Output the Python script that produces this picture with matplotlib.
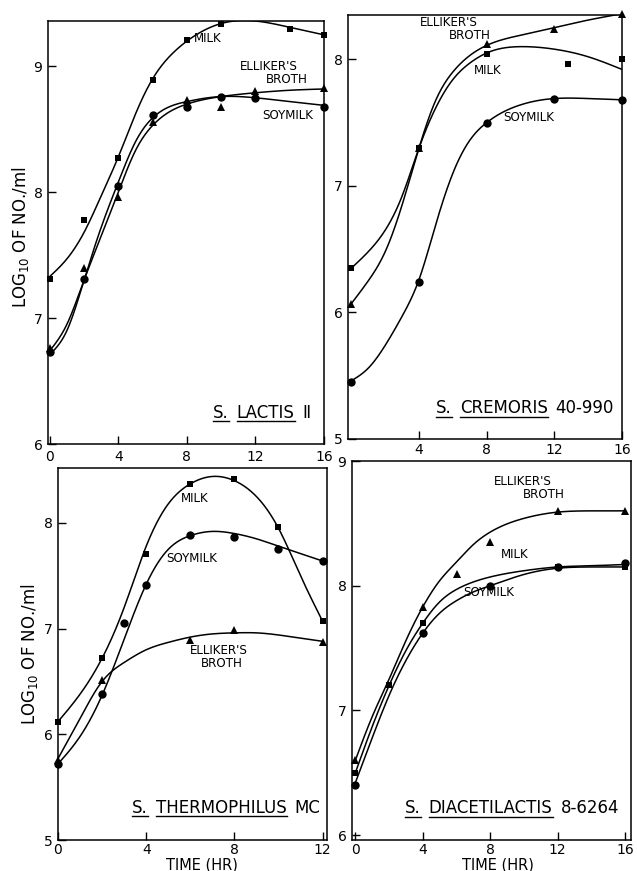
import numpy as np
import matplotlib
matplotlib.use("Agg")
import matplotlib.pyplot as plt
from matplotlib.transforms import IdentityTransform
from matplotlib.lines import Line2D

# ---------------- data ----------------
# Panel 1: S. lactis II
lac_milk_h = [0, 2, 4, 6, 8, 10, 14, 16]
lac_milk = [7.31, 7.78, 8.27, 8.89, 9.21, 9.34, 9.30, 9.25]
lac_ell_h = [0, 2, 4, 6, 8, 10, 12, 16]
lac_ell = [6.76, 7.40, 7.96, 8.56, 8.73, 8.68, 8.80, 8.83]
lac_soy_h = [0, 2, 4, 6, 8, 10, 12, 16]
lac_soy = [6.73, 7.31, 8.05, 8.61, 8.68, 8.76, 8.75, 8.68]
# hand-drawn fitted curves
lac_curve_h = [0, 1, 2, 3, 4, 5, 6, 7, 8, 10, 12, 14, 16]
lac_milk_curve = [7.33, 7.47, 7.68, 7.97, 8.28, 8.62, 8.90, 9.08, 9.20, 9.34, 9.36, 9.31, 9.25]
lac_ell_curve = [6.74, 6.95, 7.30, 7.65, 8.00, 8.33, 8.53, 8.64, 8.70, 8.76, 8.79, 8.81, 8.82]
lac_soy_curve = [6.71, 6.90, 7.30, 7.72, 8.08, 8.40, 8.59, 8.68, 8.72, 8.76, 8.75, 8.72, 8.69]

# Panel 2: S. cremoris 40-990
cre_ell_h = [0, 4, 8, 12, 16]
cre_ell = [6.07, 7.30, 8.12, 8.24, 8.36]
cre_milk_h = [0, 4, 8, 12.8, 16]
cre_milk = [6.35, 7.30, 8.04, 7.96, 8.00]
cre_soy_h = [0, 4, 8, 12, 16]
cre_soy = [5.45, 6.24, 7.50, 7.69, 7.68]
cre_curve_h = [0, 1, 2, 3, 4, 5, 6, 7, 8, 10, 12, 14, 16]
cre_ell_curve = [6.07, 6.25, 6.48, 6.85, 7.30, 7.68, 7.90, 8.03, 8.11, 8.19, 8.25, 8.31, 8.36]
cre_milk_curve = [6.35, 6.48, 6.65, 6.92, 7.30, 7.62, 7.84, 7.97, 8.05, 8.10, 8.08, 8.02, 7.92]
cre_soy_curve = [5.46, 5.56, 5.74, 5.97, 6.26, 6.70, 7.10, 7.36, 7.50, 7.64, 7.69, 7.69, 7.68]

# Panel 3: S. thermophilus MC
the_milk_h = [0, 2, 4, 6, 8, 10, 12]
the_milk = [6.12, 6.72, 7.71, 8.37, 8.42, 7.96, 7.07]
the_soy_h = [0, 2, 3, 4, 6, 8, 10, 12]
the_soy = [5.72, 6.38, 7.05, 7.41, 7.89, 7.87, 7.75, 7.64]
the_ell_h = [0, 2, 6, 8, 12]
the_ell = [5.76, 6.51, 6.89, 6.99, 6.87]
the_curve_h = [0, 1, 2, 3, 4, 5, 6, 7, 8, 9, 10, 11, 12]
the_milk_curve = [6.12, 6.38, 6.72, 7.20, 7.78, 8.18, 8.37, 8.44, 8.40, 8.25, 7.95, 7.50, 7.07]
the_soy_curve = [5.72, 5.98, 6.37, 6.90, 7.42, 7.75, 7.88, 7.92, 7.90, 7.85, 7.78, 7.71, 7.64]
the_ell_curve = [5.77, 6.15, 6.50, 6.68, 6.80, 6.87, 6.92, 6.95, 6.96, 6.96, 6.94, 6.91, 6.88]

# Panel 4: S. diacetilactis 8-6264
dia_ell_h = [0, 4, 6, 8, 12, 16]
dia_ell = [6.60, 7.83, 8.09, 8.35, 8.60, 8.60]
dia_milk_h = [0, 2, 4, 12, 16]
dia_milk = [6.50, 7.20, 7.70, 8.15, 8.15]
dia_soy_h = [0, 4, 8, 12, 16]
dia_soy = [6.40, 7.62, 8.00, 8.15, 8.18]
dia_curve_h = [0, 1, 2, 3, 4, 5, 6, 7, 8, 10, 12, 14, 16]
dia_ell_curve = [6.60, 6.95, 7.25, 7.56, 7.83, 8.04, 8.19, 8.33, 8.43, 8.54, 8.59, 8.60, 8.60]
dia_milk_curve = [6.50, 6.87, 7.20, 7.48, 7.70, 7.87, 7.97, 8.03, 8.07, 8.12, 8.15, 8.16, 8.17]
dia_soy_curve = [6.42, 6.78, 7.12, 7.40, 7.62, 7.78, 7.88, 7.95, 8.00, 8.09, 8.14, 8.15, 8.15]

# ---------------- figure ----------------
W, H = 637, 871
plt.rcParams['font.family'] = ['DejaVu Sans']
fig = plt.figure(figsize=(W / 100, H / 100), dpi=100)
fig.patch.set_facecolor('white')
LW = 1.1
TICKFS = 10
LABFS = 8.6
ID = IdentityTransform()


def add_ax(l, t, r, b):
    return fig.add_axes([l / W, 1 - b / H, (r - l) / W, (b - t) / H])


def spline(xk, yk, n=400):
    x = np.asarray(xk, float)
    y = np.asarray(yk, float)
    m = len(x)
    h = np.diff(x)
    A = np.zeros((m, m))
    rhs = np.zeros(m)
    A[0, 0] = 1.0
    A[-1, -1] = 1.0
    for i in range(1, m - 1):
        A[i, i - 1] = h[i - 1]
        A[i, i] = 2 * (h[i - 1] + h[i])
        A[i, i + 1] = h[i]
        rhs[i] = 6 * ((y[i + 1] - y[i]) / h[i] - (y[i] - y[i - 1]) / h[i - 1])
    M = np.linalg.solve(A, rhs)
    xs = np.linspace(x[0], x[-1], n)
    i = np.clip(np.searchsorted(x, xs, side='right') - 1, 0, m - 2)
    hi = h[i]
    a = x[i + 1] - xs
    b = xs - x[i]
    ys = (M[i] * a ** 3 / (6 * hi) + M[i + 1] * b ** 3 / (6 * hi)
          + (y[i] / hi - M[i] * hi / 6) * a + (y[i + 1] / hi - M[i + 1] * hi / 6) * b)
    return xs, ys


def style(ax, xlim, ylim, xticks, xlabels, yticks, xpad=4):
    ax.set_xlim(*xlim)
    ax.set_ylim(*ylim)
    ax.set_xticks(xticks)
    ax.set_xticklabels(xlabels)
    ax.set_yticks(yticks)
    ax.set_yticklabels([str(v) for v in yticks])
    ax.tick_params(direction='in', length=6, width=1.0, labelsize=TICKFS, pad=4)
    ax.tick_params(axis='x', pad=xpad)
    for s in ax.spines.values():
        s.set_linewidth(LW)
    ax.set_facecolor('white')


def draw(ax, ch, curve, h, vals, marker, ms):
    xs, ys = spline(ch, curve)
    ax.plot(xs, ys, color='black', lw=LW, zorder=2)
    ax.plot(h, vals, linestyle='none', marker=marker, ms=ms, color='black',
            markeredgewidth=0, zorder=3, clip_on=False)


def ptext(x, y, s, fs=LABFS, ha='center', **kw):
    return fig.text(x, H - y, s, transform=ID, fontsize=fs, ha=ha, va='center', **kw)


def species(parts, x0, yc, ul_y, fs=12, gap=8):
    renderer = fig.canvas.get_renderer()
    x = x0
    for txt, ul in parts:
        t = fig.text(x, H - yc, txt, transform=ID, fontsize=fs, ha='left', va='center')
        bb = t.get_window_extent(renderer)
        if ul:
            fig.add_artist(Line2D([bb.x0, bb.x1], [H - ul_y, H - ul_y], transform=ID,
                                  color='black', lw=1.0))
        x = bb.x1 + gap


SQ, CI, TR = 's', 'o', '^'
SQMS, CIMS, TRMS = 4.8, 6.0, 6.4

# Panel 1
ax1 = add_ax(48, 21, 324, 444)
style(ax1, (-0.1, 16), (6, 9.36), [0, 4, 8, 12, 16], ['0', '4', '8', '12', '16'], [6, 7, 8, 9])
draw(ax1, lac_curve_h, lac_milk_curve, lac_milk_h, lac_milk, SQ, SQMS)
draw(ax1, lac_curve_h, lac_ell_curve, lac_ell_h, lac_ell, TR, TRMS)
draw(ax1, lac_curve_h, lac_soy_curve, lac_soy_h, lac_soy, CI, CIMS)

# Panel 2
ax2 = add_ax(348, 15, 622, 439)
style(ax2, (-0.2, 16), (5, 8.35), [4, 8, 12, 16], ['4', '8', '12', '16'], [5, 6, 7, 8], xpad=3)
draw(ax2, cre_curve_h, cre_ell_curve, cre_ell_h, cre_ell, TR, TRMS)
draw(ax2, cre_curve_h, cre_milk_curve, cre_milk_h, cre_milk, SQ, SQMS)
draw(ax2, cre_curve_h, cre_soy_curve, cre_soy_h, cre_soy, CI, CIMS)

# Panel 3
ax3 = add_ax(58, 468, 327, 840)
style(ax3, (0, 12.2), (5, 8.52), [0, 4, 8, 12], ['0', '4', '8', '12'], [5, 6, 7, 8], xpad=2)
draw(ax3, the_curve_h, the_milk_curve, the_milk_h, the_milk, SQ, SQMS)
draw(ax3, the_curve_h, the_soy_curve, the_soy_h, the_soy, CI, CIMS)
draw(ax3, the_curve_h, the_ell_curve, the_ell_h, the_ell, TR, TRMS)

# Panel 4
ax4 = add_ax(352, 461, 631, 840)
style(ax4, (-0.2, 16.35), (5.96, 9.0), [0, 4, 8, 12, 16], ['0', '4', '8', '12', '16'], [6, 7, 8, 9], xpad=2)
draw(ax4, dia_curve_h, dia_ell_curve, dia_ell_h, dia_ell, TR, TRMS)
draw(ax4, dia_curve_h, dia_milk_curve, dia_milk_h, dia_milk, SQ, SQMS)
draw(ax4, dia_curve_h, dia_soy_curve, dia_soy_h, dia_soy, CI, CIMS)

# curve labels (image pixel positions)
ptext(208, 38, 'MILK')
ptext(269, 66, "ELLIKER'S")
ptext(287, 79, 'BROTH')
ptext(288, 115, 'SOYMILK')

ptext(449, 22, "ELLIKER'S")
ptext(470, 35, 'BROTH')
ptext(488, 70, 'MILK')
ptext(529, 117, 'SOYMILK')

ptext(195, 498, 'MILK')
ptext(192, 558, 'SOYMILK')
ptext(219, 650, "ELLIKER'S")
ptext(222, 663, 'BROTH')

ptext(523, 481, "ELLIKER'S")
ptext(544, 494, 'BROTH')
ptext(515, 554, 'MILK')
ptext(489, 592, 'SOYMILK')

# species titles
species([('S.', True), ('LACTIS', True), ('Ⅱ', False)], 213, 413, 421)
species([('S.', True), ('CREMORIS', True), ('40-990', False)], 436, 408, 417)
species([('S.', True), ('THERMOPHILUS', True), ('MC', False)], 132, 808, 816)
species([('S.', True), ('DIACETILACTIS', True), ('8-6264', False)], 405, 808, 817)

# axis titles
ptext(21, 237, r'LOG$_{10}$ OF NO./ml', fs=12, rotation=90)
ptext(30, 654, r'LOG$_{10}$ OF NO./ml', fs=12, rotation=90)
ptext(202, 865, 'TIME (HR)', fs=10.5)
ptext(498, 865, 'TIME (HR)', fs=10.5)

fig.savefig('out.png', dpi=100, facecolor='white')
